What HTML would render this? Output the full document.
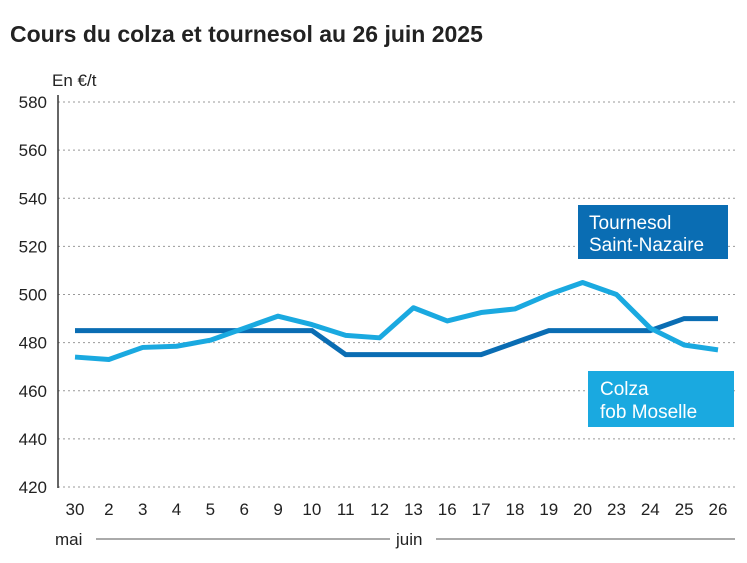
<!DOCTYPE html>
<html><head><meta charset="utf-8"><style>
body{margin:0;background:#fff;font-family:"Liberation Sans",sans-serif}
</style></head><body>
<svg width="747" height="558" xmlns="http://www.w3.org/2000/svg" font-family="Liberation Sans, sans-serif">
<text x="10" y="42" font-size="23" font-weight="bold" fill="#222">Cours du colza et tournesol au 26 juin 2025</text>
<text x="52" y="86" font-size="17" fill="#222">En €/t</text>
<g id="grid"></g><g id="xt"></g><g id="series"></g>
<line x1="58" y1="95" x2="58" y2="488" stroke="#333" stroke-width="1.5"/>
<text x="55" y="545" font-size="17" fill="#222">mai</text>
<line x1="96" y1="539" x2="390" y2="539" stroke="#555"/>
<text x="396" y="545" font-size="17" fill="#222">juin</text>
<line x1="436" y1="539" x2="735" y2="539" stroke="#555"/>
<g><rect x="578" y="205" width="150" height="54" fill="#0a6db3"/>
<text x="589" y="229" font-size="19" fill="#fff">Tournesol</text><text x="589" y="251" font-size="19" fill="#fff">Saint-Nazaire</text></g>
<g><rect x="588" y="371" width="146" height="56" fill="#1aa9e0"/>
<text x="600" y="395" font-size="19" fill="#fff">Colza</text><text x="600" y="418" font-size="19" fill="#fff">fob Moselle</text></g>
</svg>
<script>
const categories=["30","2","3","4","5","6","9","10","11","12","13","16","17","18","19","20","23","24","25","26"];
const tournesol=[485,485,485,485,485,485,485,485,475,475,475,475,475,480,485,485,485,485,490,490];
const colza=[474,473,478,478.5,481,486,491,487.5,483,482,494.5,489,492.5,494,500,505,500,486,479,477];
const yTicks=[420,440,460,480,500,520,540,560,580];
const NS="http://www.w3.org/2000/svg";
const x=i=>75+i*(718-75)/(categories.length-1);
const y=v=>487-(v-420)*(487-102)/160;
function mk(t,a,p){const e=document.createElementNS(NS,t);for(const k in a)e.setAttribute(k,a[k]);p.appendChild(e);return e;}
const g=document.getElementById('grid');
yTicks.forEach(v=>{
 const l=mk('line',{x1:58,x2:735,y1:y(v),y2:y(v),stroke:'#999','stroke-dasharray':'2,3'},g);
 
 
 const t=mk('text',{x:47,y:y(v)+6,'text-anchor':'end','font-size':17,fill:'#222'},g);t.textContent=v;
 
 
});
const xt=document.getElementById('xt');
categories.forEach((c,i)=>{
 const t=mk('text',{x:x(i),y:515,'text-anchor':'middle','font-size':17,fill:'#222'},xt);t.textContent=c;
 
 
});
const s=document.getElementById('series');
const p1=mk('polyline',{points:tournesol.map((v,i)=>x(i)+','+y(v)).join(' '),fill:'none',stroke:'#0a6db3','stroke-width':5},s);


const p2=mk('polyline',{points:colza.map((v,i)=>x(i)+','+y(v)).join(' '),fill:'none',stroke:'#1aa9e0','stroke-width':5,'stroke-linejoin':'round'},s);


</script>
</body></html>
